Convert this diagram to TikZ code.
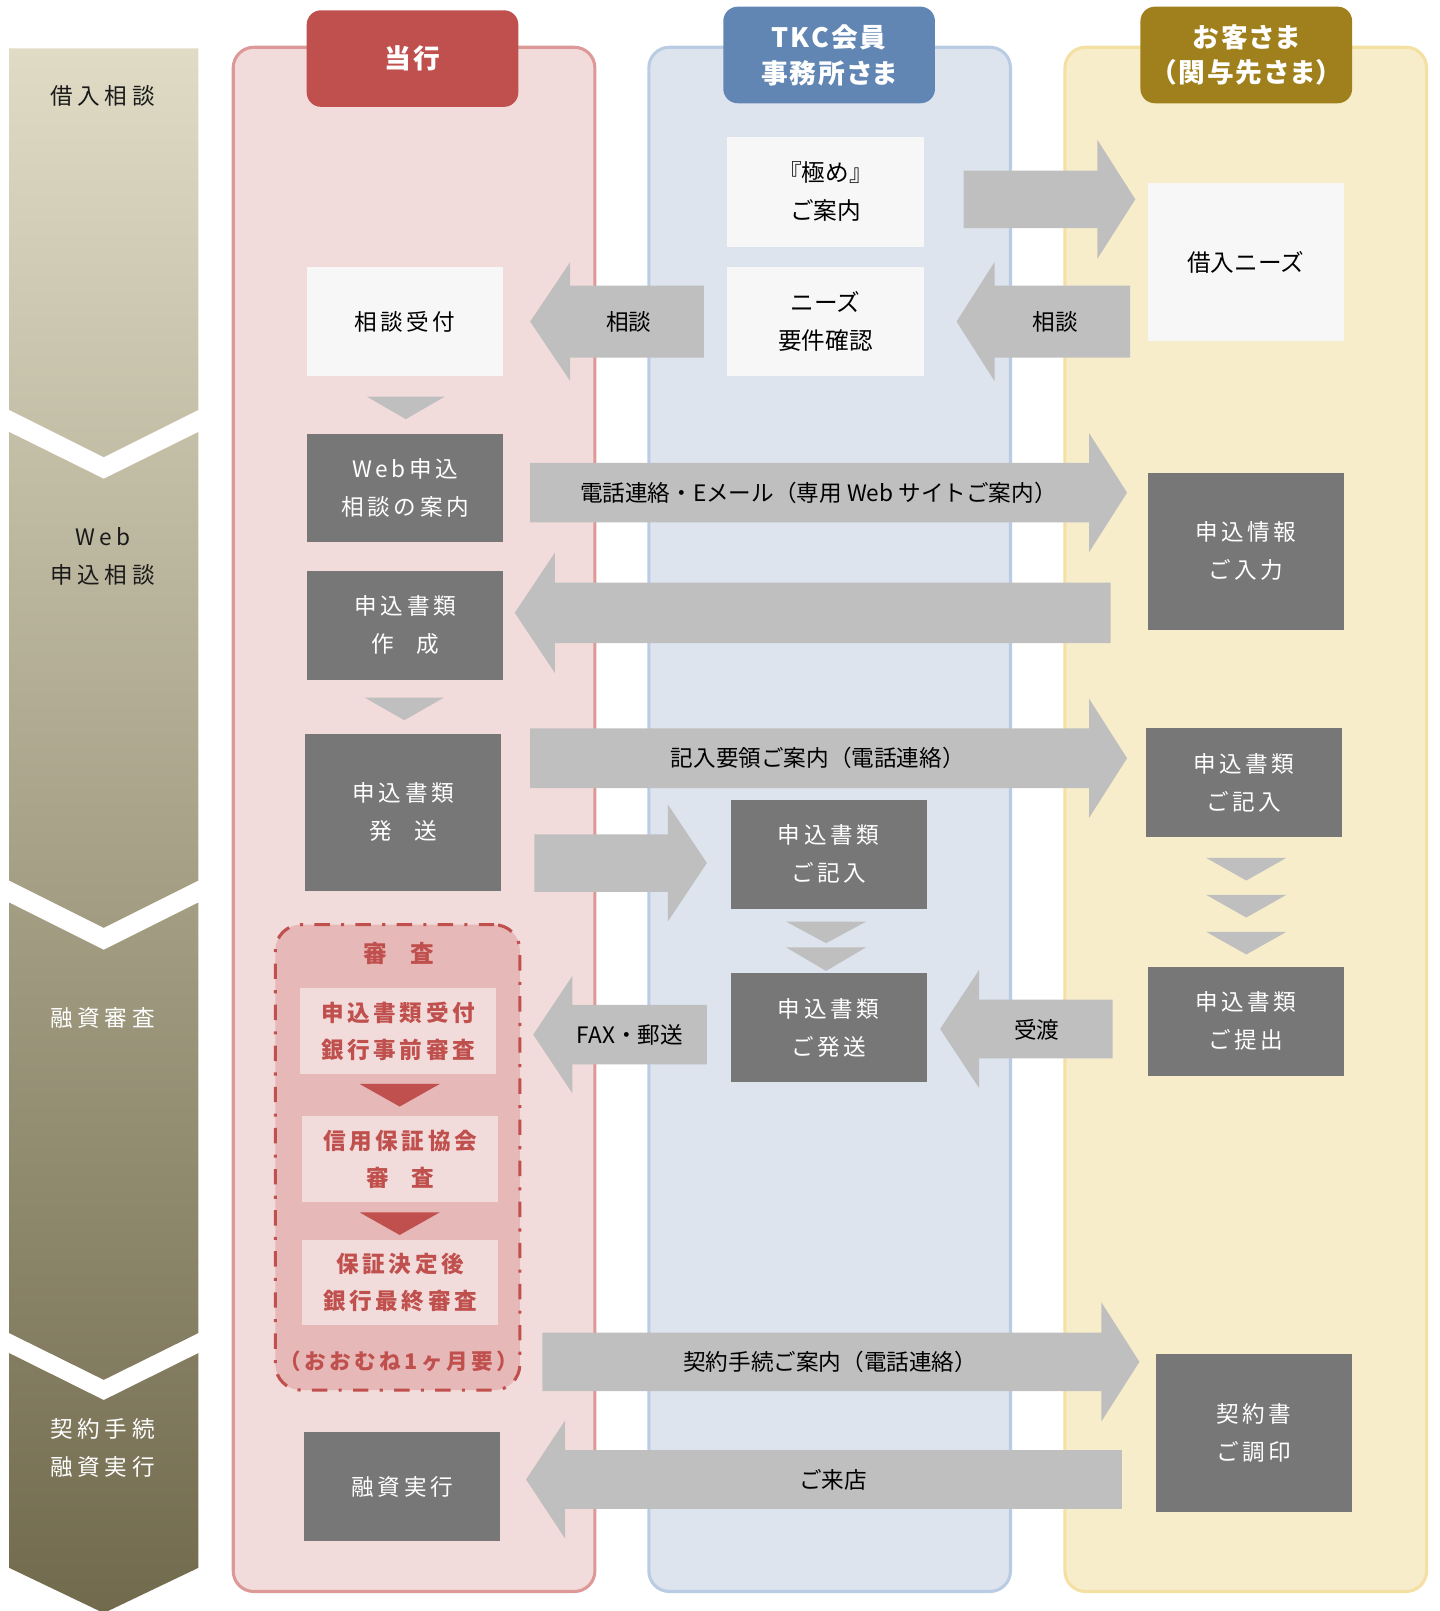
\documentclass[tikz,border=0pt]{standalone}
\usepackage{fontspec}
\setmainfont{Noto Sans CJK JP}
\newfontfamily\jpsp{Noto Sans CJK JP}[LetterSpace=16]
\newfontfamily\jpch{Noto Sans CJK JP}[LetterSpace=20]
\newfontfamily\jphd{Noto Sans CJK JP}[LetterSpace=8,RawFeature=+palt]
\definecolor{pinkfill}{HTML}{F2DCDB}
\definecolor{pinkborder}{HTML}{DC9997}
\definecolor{bluefill}{HTML}{DDE4EE}
\definecolor{blueborder}{HTML}{B9CCE3}
\definecolor{yellowfill}{HTML}{F7EDCB}
\definecolor{yellowborder}{HTML}{F4E0A2}
\definecolor{redmain}{HTML}{C0504D}
\definecolor{bluehead}{HTML}{6186B4}
\definecolor{goldhead}{HTML}{A0801D}
\definecolor{lightfill}{HTML}{F7F7F7}
\definecolor{darkfill}{HTML}{777777}
\definecolor{arrowgray}{HTML}{BFBFBF}
\definecolor{redfill}{HTML}{E6B8B7}
\definecolor{redinner}{HTML}{F2DCDB}
\definecolor{chevtop}{HTML}{DFDBC5}
\definecolor{chevbot}{HTML}{716A4D}
\definecolor{chevtext}{HTML}{1A1A1A}
\newcommand{\blockarrow}[6]{%
  \fill[arrowgray] (#1,#4-#5) -- (#2,#4-#5) -- (#2,#4-#6) -- (#3,#4) -- (#2,#4+#6) -- (#2,#4+#5) -- (#1,#4+#5) -- cycle;}
\newcommand{\downtri}[5]{%
  \fill[#5] (#1,#3) -- (#2,#3) -- ({(#1+#2)/2},#4) -- cycle;}
\begin{document}
\begin{tikzpicture}[x=1pt,y=-1pt,
  lightbox/.style={fill=lightfill, text=black, inner sep=0pt, align=center, font=\fontsize{23}{37}\selectfont},
  lightsp/.style={fill=lightfill, text=black, inner sep=0pt, align=center, font=\jpsp\fontsize{22}{37}\selectfont},
  darkbox/.style={fill=darkfill, text=white, inner sep=0pt, align=center, font=\jpsp\fontsize{22}{37}\selectfont},
  redbox/.style={fill=redinner, text=redmain, inner sep=0pt, align=center, font=\jpsp\bfseries\fontsize{22}{36}\selectfont},
  arrowlabel/.style={text=black, inner sep=0pt, font=\fontsize{22}{26}\selectfont},
  headbox/.style={text=white, rounded corners=14pt, inner sep=0pt, align=center, font=\jphd\bfseries\fontsize{26}{35}\selectfont, minimum width=206pt, minimum height=94pt},
  lanebox/.style={line width=3pt, rounded corners=20pt, inner sep=0pt, minimum width=352pt, minimum height=1503pt},
  chevlabel/.style={inner sep=0pt, align=center, font=\jpch\fontsize{22}{37}\selectfont},
  bw/.style={minimum width=191pt, minimum height=106pt},
  bwt/.style={minimum width=191pt, minimum height=154pt},
  rw/.style={minimum width=191pt, minimum height=83pt},
]
\useasboundingbox (0,0) rectangle (1401,1568);

% ---- phase chevrons ----
\begin{scope}
  \clip (9,47) -- (193,47) -- (193,399) -- (101,445) -- (9,399) -- cycle
        (9,420.5) -- (101,466) -- (193,420.5) -- (193,857) -- (101,903) -- (9,857) -- cycle
        (9,878.5) -- (101,924.5) -- (193,878.5) -- (193,1297.5) -- (101,1343) -- (9,1297.5) -- cycle
        (9,1317) -- (101,1362.7) -- (193,1317) -- (193,1526) -- (101,1570) -- (9,1526) -- cycle;
  \shade[top color=chevtop, bottom color=chevbot] (0,47) rectangle (200,1570);
\end{scope}
\node[chevlabel, text=chevtext] (p1) at (100,93) {借入相談};
\node[chevlabel, text=chevtext] (p2) at (100,542) {Web\\申込相談};
\node[chevlabel, text=white] (p3) at (100,991) {融資審査};
\node[chevlabel, text=white] (p4) at (100,1409.5) {契約手続\\融資実行};

% ---- lanes ----
\node[lanebox, fill=pinkfill, draw=pinkborder] (lane1) at (403,797.5) {};
\node[lanebox, fill=bluefill, draw=blueborder] (lane2) at (807.5,797.5) {};
\node[lanebox, fill=yellowfill, draw=yellowborder] (lane3) at (1212.5,797.5) {};

% ---- headers ----
\node[headbox, fill=redmain] (h1) at (401.5,57) {当行};
\node[headbox, fill=bluehead] (h2) at (807,53.5) {TKC会員\\事務所さま};
\node[headbox, fill=goldhead] (h3) at (1213,53.5) {お客さま\\（関与先さま）};

% ---- big arrows ----
\blockarrow{938}{1068}{1105}{194}{28}{58}
\blockarrow{1100}{968}{931}{313}{35}{58}
\blockarrow{685}{555}{516}{313}{35}{58}
\blockarrow{516}{1060}{1097}{479.5}{29}{58}
\blockarrow{1081}{540}{501}{596.5}{29.5}{58.5}
\blockarrow{516}{1060}{1097}{738}{29}{58}
\blockarrow{520}{650}{688}{840}{28}{57}
\blockarrow{688}{557}{519}{1007}{29}{57}
\blockarrow{1083}{953}{915}{1001.5}{28.5}{57.5}
\blockarrow{528}{1072}{1109}{1325.5}{28.5}{58}
\blockarrow{1092}{550}{512}{1440}{28.5}{57.5}

\node[arrowlabel] (l1) at (1027,313) {相談};
\node[arrowlabel] (l2) at (612,313) {相談};
\node[arrowlabel] (l3) at (796.5,480) {電話連絡・Eメール（専用 Web サイトご案内）};
\node[arrowlabel] (l4) at (796,738) {記入要領ご案内（電話連絡）};
\node[arrowlabel] (l5) at (613,1007) {FAX・郵送};
\node[arrowlabel] (l6) at (1009,1002) {受渡};
\node[arrowlabel] (l7) at (808,1325.5) {契約手続ご案内（電話連絡）};
\node[arrowlabel] (l8) at (811,1440) {ご来店};

% ---- process boxes ----
\node[lightbox, minimum width=191pt, minimum height=107pt] (kiwame) at (803.5,186.5) {『極め』\\ご案内};
\node[lightbox, bw] (needs) at (803.5,313) {ニーズ\\要件確認};
\node[lightsp, bw] (soudan) at (394,313) {相談受付};
\node[lightbox, bwt] (kariire) at (1212.5,255) {借入ニーズ};

\node[darkbox, bw] (webguide) at (394.5,475) {Web申込\\相談の案内};
\node[darkbox, bw] (sakusei) at (394.5,608.5) {申込書類\\{\rmfamily 作　成}};
\node[darkbox, minimum width=191pt, minimum height=153pt] (hassou) at (392.5,790.5) {申込書類\\{\rmfamily 発　送}};
\node[darkbox, minimum width=191pt, minimum height=153pt] (nyuryoku) at (1212.5,536.5) {申込情報\\ご入力};
\node[darkbox, bw] (kinyuR) at (1210.5,762) {申込書類\\ご記入};
\node[darkbox, bw] (kinyuM) at (806.5,831.5) {申込書類\\ご記入};
\node[darkbox, bw] (hassouM) at (806.5,1000.5) {申込書類\\ご発送};
\node[darkbox, bw] (teishutsu) at (1212.5,994) {申込書類\\ご提出};
\node[darkbox, bw] (jikkou) at (391.5,1447) {融資実行};
\node[darkbox, bwt] (chouin) at (1220.5,1395) {契約書\\ご調印};

% ---- small flow triangles ----
\downtri{357}{433}{386}{408}{arrowgray}
\downtri{355}{432}{679}{701}{arrowgray}
\downtri{765}{843}{897}{918}{arrowgray}
\downtri{765}{843}{922}{945}{arrowgray}
\downtri{1174}{1252}{835}{857}{arrowgray}
\downtri{1174}{1252}{871}{893}{arrowgray}
\downtri{1174}{1252}{907}{929}{arrowgray}

% ---- review group ----
\node[draw=redmain, fill=redfill, line width=3pt, dash pattern=on 15pt off 11pt on 3pt off 11pt,
      rounded corners=25pt, minimum width=238pt, minimum height=453pt, inner sep=0pt] (review) at (387,1126.5) {};
\node[text=redmain, inner sep=0pt, font=\bfseries\fontsize{23}{26}\selectfont] (rtitle) at (388,928) {審　査};
\node[redbox, rw] (r1) at (387.5,1003.5) {申込書類受付\\銀行事前審査};
\node[redbox, rw] (r2) at (389.5,1128) {信用保証協会\\{\rmfamily\bfseries 審　査}};
\node[redbox, rw] (r3) at (389.5,1248.5) {保証決定後\\銀行最終審査};
\downtri{350}{428}{1055}{1077}{redmain}
\downtri{350}{428}{1180}{1202}{redmain}
\node[text=redmain, inner sep=0pt, font=\jpsp\bfseries\fontsize{21}{26}\selectfont] (rnote) at (388,1325) {（おおむね1ヶ月要）};
\end{tikzpicture}
\end{document}
